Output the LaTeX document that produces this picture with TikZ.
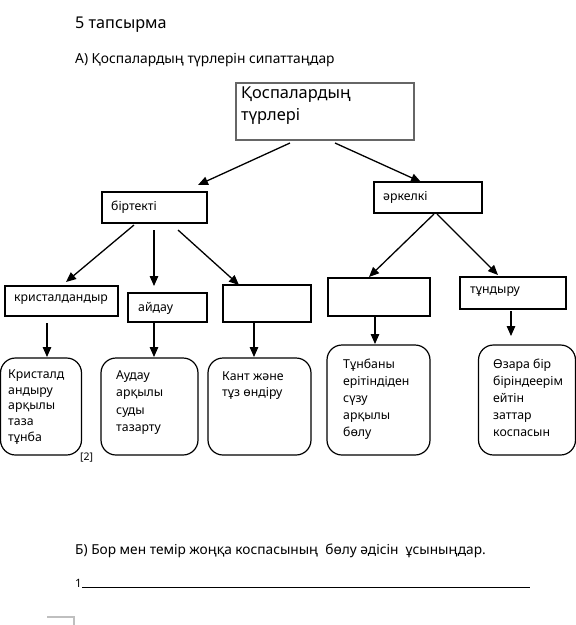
\documentclass[tikz,border=0pt]{standalone}
\usepackage{fontspec}
\setmainfont{Noto Sans}
\usetikzlibrary{arrows.meta}
\tikzset{
  boxr/.style={draw=black, line width=1.2pt, inner sep=0pt, outer sep=0pt},
  boxtop/.style={draw=black!60, line width=1.2pt, inner sep=0pt, outer sep=0pt},
  boxround/.style={draw=black, line width=1.2pt, rounded corners=15pt, inner sep=0pt, outer sep=0pt},
  arr/.style={line width=1.3pt, -{Triangle[length=10pt,width=8.5pt]}},
  lbl/.style={anchor=west, inner sep=0pt, font=\fontsize{12.3}{14}\selectfont},
  multi/.style={anchor=north west, inner sep=0pt, align=left},
}
\begin{document}
\begin{tikzpicture}[x=1pt,y=-1pt]
\useasboundingbox (0,0) rectangle (576,625);
% headings
\node[anchor=west, inner sep=0pt, font=\fontsize{16.2}{19}\selectfont] (t1) at (75,25) {5 тапсырма};
\node[anchor=west, inner sep=0pt, font=\fontsize{13.8}{17}\selectfont] (t2) at (75,60) {А) Қоспалардың түрлерін сипаттаңдар};
% top box
\node[boxtop, minimum width=178pt, minimum height=57pt] (top) at (325,111.5) {};
\node[multi, font=\fontsize{16.4}{22}\selectfont] (toptxt) at (241,87) {Қоспалардың\\түрлері};
% level 2
\node[boxr, minimum width=105pt, minimum height=31pt] (btk) at (154.5,207.5) {};
\node[lbl] (btktxt) at (111,207) {біртекті};
\node[boxr, minimum width=108pt, minimum height=31pt] (ark) at (428,197.5) {};
\node[lbl] (arktxt) at (383,197) {әркелкі};
% level 3
\node[boxr, minimum width=113pt, minimum height=30pt] (kr) at (61.5,301) {};
\node[lbl] (krtxt) at (14,300) {кристалдандыр};
\node[boxr, minimum width=79pt, minimum height=29pt] (ai) at (167.5,307.5) {};
\node[lbl] (aitxt) at (138,308) {айдау};
\node[boxr, minimum width=88pt, minimum height=37pt] (e3) at (267,303.5) {};
\node[boxr, minimum width=102pt, minimum height=38pt] (e4) at (379,297) {};
\node[boxr, minimum width=106pt, minimum height=32pt] (tn) at (513,293) {};
\node[lbl] (tntxt) at (470,292) {тұндыру};
% level 4 rounded
\node[boxround, minimum width=81pt, minimum height=97pt] (r1) at (41,406.5) {};
\node[multi, font=\fontsize{12.3}{15.7}\selectfont] (r1txt) at (8,369.5) {Кристалд\\андыру\\арқылы\\таза\\тұнба};
\node[boxround, minimum width=97pt, minimum height=97pt] (r2) at (149.5,406.5) {};
\node[multi, font=\fontsize{12.3}{17.4}\selectfont] (r2txt) at (116,370.5) {Аудау\\арқылы\\суды\\тазарту};
\node[boxround, minimum width=103pt, minimum height=97pt] (r3) at (259.5,406.5) {};
\node[multi, font=\fontsize{12.3}{16}\selectfont] (r3txt) at (222,372) {Кант және\\тұз өндіру};
\node[boxround, minimum width=103pt, minimum height=110pt] (r4) at (378.5,400) {};
\node[multi, font=\fontsize{12.3}{17}\selectfont] (r4txt) at (343,358.5) {Тұнбаны\\ерітіндіден\\сүзу\\арқылы\\бөлу};
\node[boxround, minimum width=97pt, minimum height=110pt] (r5) at (527,400) {};
\node[multi, font=\fontsize{12.3}{17}\selectfont] (r5txt) at (493,358.5) {Өзара бір\\біріндеерім\\ейтін\\заттар\\коспасын};
\node[anchor=west, inner sep=0pt, font=\fontsize{10.5}{12}\selectfont] (mark) at (80,458) {[2]};
% connector coordinates
\coordinate (s1) at (290,143); \coordinate (e1) at (198,185);
\coordinate (s2) at (335,143); \coordinate (e2) at (421,182);
\coordinate (s3) at (134,225); \coordinate (e3t) at (66,282);
\coordinate (s4) at (154,230); \coordinate (e4t) at (154,286);
\coordinate (s5) at (178,230); \coordinate (e5) at (239,285);
\coordinate (s6) at (434,214); \coordinate (e6) at (369,277);
\coordinate (s7) at (437,214); \coordinate (e7) at (498,275);
\coordinate (s8) at (47,323);  \coordinate (e8) at (47,357);
\coordinate (s9) at (154,323); \coordinate (e9) at (154,357);
\coordinate (s10) at (254,323); \coordinate (e10) at (254,357);
\coordinate (s11) at (375,317); \coordinate (e11) at (375,344);
\coordinate (s12) at (511,311); \coordinate (e12) at (511,336);
\draw[arr] (s1) -- (e1);
\draw[arr] (s2) -- (e2);
\draw[arr] (s3) -- (e3t);
\draw[arr] (s4) -- (e4t);
\draw[arr] (s5) -- (e5);
\draw[arr] (s6) -- (e6);
\draw[arr] (s7) -- (e7);
\draw[arr] (s8) -- (e8);
\draw[arr] (s9) -- (e9);
\draw[arr] (s10) -- (e10);
\draw[arr] (s11) -- (e11);
\draw[arr] (s12) -- (e12);
% part B
\node[anchor=west, inner sep=0pt, font=\fontsize{13.7}{16}\selectfont] (b1) at (75,551) {Б) Бор мен темір жоңқа коспасының\ \ бөлу әдісін\ \ ұсыныңдар.};
\node[anchor=base west, inner sep=0pt, font=\fontsize{11.5}{13}\selectfont] (b2) at (75,587) {1};
\coordinate (ul1) at (82,587); \coordinate (ul2) at (530,587);
\draw[line width=0.7pt] (ul1) -- (ul2);
\coordinate (c1) at (47,617); \coordinate (c2) at (74,617); \coordinate (c3) at (74,625);
\draw[black!25, line width=1.2pt] (c1) -- (c2) -- (c3);
\end{tikzpicture}
\end{document}
